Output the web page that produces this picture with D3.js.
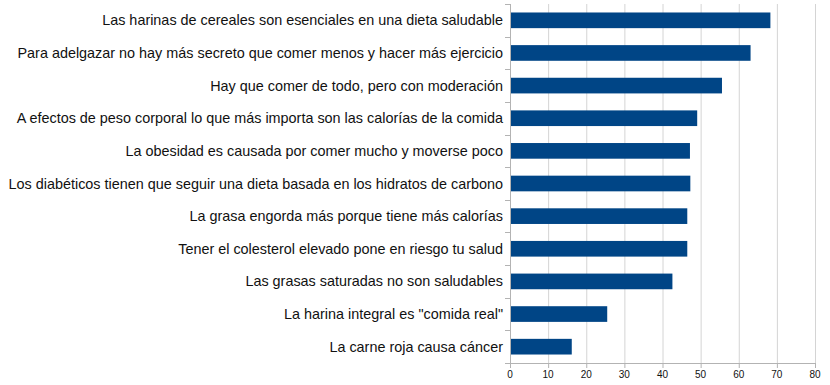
<!DOCTYPE html>
<html>
<head>
<meta charset="utf-8">
<script src="https://cdn.jsdelivr.net/npm/d3@7"></script>
<style>
body { margin: 0; background: #fff; }
text { font-family: "Liberation Sans", Arial, sans-serif; fill: #111; }
</style>
</head>
<body>
<script>
// statements, top to bottom
var labels = [
  "Las harinas de cereales son esenciales en una dieta saludable",
  "Para adelgazar no hay más secreto que comer menos y hacer más ejercicio",
  "Hay que comer de todo, pero con moderación",
  "A efectos de peso corporal lo que más importa son las calorías de la comida",
  "La obesidad es causada por comer mucho y moverse poco",
  "Los diabéticos tienen que seguir una dieta basada en los hidratos de carbono",
  "La grasa engorda más porque tiene más calorías",
  "Tener el colesterol elevado pone en riesgo tu salud",
  "Las grasas saturadas no son saludables",
  "La harina integral es \"comida real\"",
  "La carne roja causa cáncer"
];
var values = [68.3, 63.1, 55.6, 49.1, 47.2, 47.3, 46.5, 46.5, 42.6, 25.5, 16.2];
var xTicks = [0, 10, 20, 30, 40, 50, 60, 70, 80];

var width = 830, height = 385;
var margin = {top: 4, right: 15, bottom: 22, left: 510};

var svg = d3.select("body").append("svg").attr("width", width).attr("height", height);

var x = d3.scaleLinear().domain([0, 80]).range([margin.left, width - margin.right]);
var y = d3.scaleBand().domain(labels).range([margin.top, height - margin.bottom]).paddingInner(0.52).paddingOuter(0.26);

// grid
svg.append("g").selectAll("line").data(xTicks.slice(1)).enter().append("line")
  .attr("x1", d => x(d) + 0.5).attr("x2", d => x(d) + 0.5)
  .attr("y1", margin.top).attr("y2", height - margin.bottom)
  .attr("stroke", "#d4d4d4").attr("stroke-width", 1);

// bars
svg.append("g").selectAll("rect").data(values).enter().append("rect")
  .attr("x", x(0))
  .attr("y", (d, i) => y(labels[i]))
  .attr("width", d => x(d) - x(0))
  .attr("height", y.bandwidth())
  .attr("fill", "#004586");

// left axis
var step = y.step();
var bounds = d3.range(labels.length + 1).map(i => margin.top + i * step);
var gl = svg.append("g");
gl.append("line").attr("x1", x(0) + 0.5).attr("x2", x(0) + 0.5)
  .attr("y1", margin.top).attr("y2", height - margin.bottom)
  .attr("stroke", "#b3b3b3");
gl.selectAll(".tk").data(bounds).enter().append("line")
  .attr("x1", x(0) - 5).attr("x2", x(0))
  .attr("y1", d => Math.round(d) + 0.5).attr("y2", d => Math.round(d) + 0.5)
  .attr("stroke", "#b3b3b3");
gl.selectAll("text").data(labels).enter().append("text")
  .attr("x", x(0) - 7)
  .attr("y", d => y(d) + y.bandwidth() / 2)
  .attr("dy", "0.35em")
  .attr("text-anchor", "end")
  .style("font-size", "14.4px")
  .text(d => d);

// bottom axis
var gb = svg.append("g");
gb.append("line").attr("x1", x(0) - 5).attr("x2", x(80) + 0.5)
  .attr("y1", height - margin.bottom + 0.5).attr("y2", height - margin.bottom + 0.5)
  .attr("stroke", "#b3b3b3");
gb.selectAll(".tk").data(xTicks).enter().append("line")
  .attr("x1", d => x(d) + 0.5).attr("x2", d => x(d) + 0.5)
  .attr("y1", height - margin.bottom).attr("y2", height - margin.bottom + 5)
  .attr("stroke", "#b3b3b3");
gb.selectAll("text").data(xTicks).enter().append("text")
  .attr("x", d => x(d))
  .attr("y", height - margin.bottom + 15)
  .attr("text-anchor", "middle")
  .style("font-size", "10px")
  .text(d => d);
</script>
</body>
</html>
